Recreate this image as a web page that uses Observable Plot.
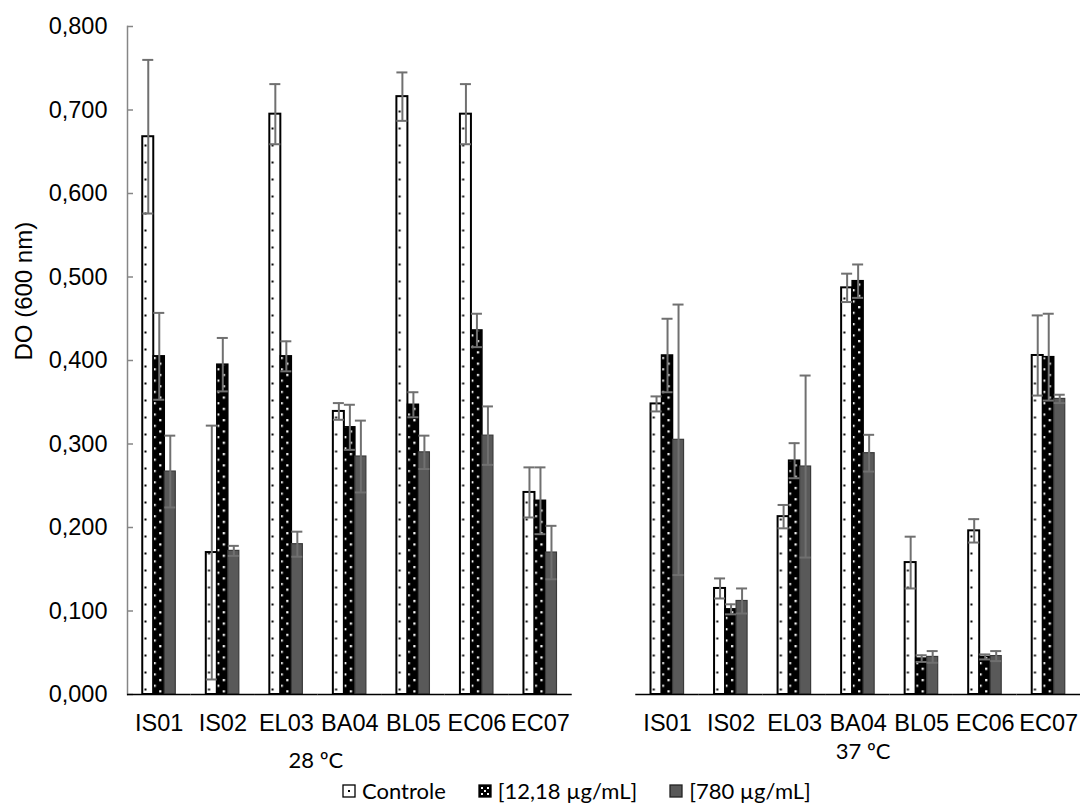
<!DOCTYPE html>
<html>
<head>
<meta charset="utf-8">
<script src="https://cdn.jsdelivr.net/npm/d3@7"></script>
<script src="https://cdn.jsdelivr.net/npm/@observablehq/plot@0.6"></script>
<style>
  html, body { margin: 0; padding: 0; background: #fff; overflow: hidden; }
  #wrap { position: relative; width: 1080px; height: 803px; overflow: hidden; }
  #legend { position: absolute; left: 342px; top: 779px; height: 24px; line-height: 24px; display: flex; align-items: center;
            font-family: Lato, "Noto Sans", sans-serif; font-size: 22px; color: #000; white-space: nowrap; }
  #legend .item { display: flex; align-items: center; margin-right: 32px; }
  #legend svg { margin-right: 6px; }
</style>
</head>
<body>
<div id="wrap">
  <div id="chart"></div>
  <div id="legend"></div>
</div>
<script>
// ---- data ----
const categories = ["IS01", "IS02", "EL03", "BA04", "BL05", "EC06", "EC07"];
const temps = ["28 ºC", "37 ºC"];
const series = ["Controle", "[12,18 µg/mL]", "[780 µg/mL]"];
const yLabel = "DO (600 nm)";

// values: 28 ºC (7) followed by 37 ºC (7)
const controle    = [0.668, 0.170, 0.695, 0.339, 0.716, 0.695, 0.242,  0.348, 0.127, 0.213, 0.487, 0.158, 0.196, 0.406];
const controleErr = [0.092, 0.152, 0.036, 0.010, 0.029, 0.036, 0.030,  0.009, 0.012, 0.014, 0.017, 0.031, 0.014, 0.048];
const c1218       = [0.405, 0.395, 0.405, 0.320, 0.347, 0.436, 0.232,  0.406, 0.102, 0.280, 0.495, 0.043, 0.045, 0.404];
const c1218Err    = [0.052, 0.032, 0.018, 0.027, 0.015, 0.020, 0.040,  0.044, 0.006, 0.021, 0.020, 0.004, 0.003, 0.052];
const c780        = [0.267, 0.172, 0.180, 0.285, 0.290, 0.310, 0.170,  0.305, 0.112, 0.273, 0.289, 0.045, 0.046, 0.354];
const c780Err     = [0.043, 0.006, 0.015, 0.043, 0.020, 0.035, 0.032,  0.162, 0.015, 0.109, 0.022, 0.007, 0.006, 0.005];

const yTicks = [0, 0.1, 0.2, 0.3, 0.4, 0.5, 0.6, 0.7, 0.8];

// ---- build table ----
const slotKey = (t, c) => `${t}|${c}`;
const slots = [...categories.map(c => slotKey(temps[0], c)), "gap", ...categories.map(c => slotKey(temps[1], c))];
const valueSets = [[controle, controleErr], [c1218, c1218Err], [c780, c780Err]];
const rows = [];
for (let i = 0; i < 14; i++) {
  const t = temps[i < 7 ? 0 : 1];
  const c = categories[i % 7];
  series.forEach((s, k) => {
    const v = valueSets[k][0][i], e = valueSets[k][1][i];
    rows.push({slot: slotKey(t, c), series: s, value: v, lo: v - e, hi: v + e});
  });
}
const bySeries = s => rows.filter(d => d.series === s);
const fmt = d => d.toFixed(3).replace(".", ",");
const errColor = "#707070";
const labelFont = "Lato, 'Noto Sans', sans-serif";

const plot = Plot.plot({
  width: 1080,
  height: 778,
  marginLeft: 127,
  marginRight: 0,
  marginTop: 26,
  marginBottom: 84,
  style: {fontFamily: "'Liberation Sans', Arial, sans-serif", fontSize: "23.5px", color: "#000", background: "#fff", overflow: "visible"},
  fx: {domain: slots, padding: 0, round: false, label: null, axis: null},
  x: {domain: series, paddingInner: 0, paddingOuter: 1.386, round: false, axis: null},
  y: {domain: [0, 0.8], axis: null},
  marks: [
    Plot.frame({anchor: "left", facetAnchor: "left", stroke: "#868686", strokeWidth: 1.5}),
    Plot.axisY({ticks: yTicks, tickFormat: fmt, tickSize: 6, insetLeft: 6, tickPadding: 20,
                facetAnchor: "left", stroke: "#868686", strokeWidth: 1.5, label: null}),
    Plot.text([yLabel], {fx: () => slots[0], text: d => d, frameAnchor: "left", rotate: -90,
                         dx: -103, fontSize: 24}),
    Plot.axisFx({anchor: "bottom", tickSize: 0, tickPadding: 20, label: null,
                 tickFormat: d => d === "gap" ? "" : d.split("|")[1]}),
    Plot.barY(bySeries(series[0]), {fx: "slot", x: "series", y: "value", fill: "url(#patCtrl)", stroke: "#000", strokeWidth: 2}),
    Plot.barY(bySeries(series[1]), {fx: "slot", x: "series", y: "value", fill: "url(#pat1218)", stroke: "#000", strokeWidth: 1.5}),
    Plot.barY(bySeries(series[2]), {fx: "slot", x: "series", y: "value", fill: "#595959", stroke: "#3a3a3a", strokeWidth: 1.2}),
    Plot.ruleX(rows, {fx: "slot", x: "series", y1: "lo", y2: "hi", stroke: errColor, strokeWidth: 2}),
    Plot.tickY(rows, {fx: "slot", x: "series", y: "hi", stroke: errColor, strokeWidth: 2}),
    Plot.tickY(rows, {fx: "slot", x: "series", y: "lo", stroke: errColor, strokeWidth: 2}),
    Plot.ruleY([0], {stroke: "#000", strokeWidth: 1.5}),
    Plot.text([temps[0]], {fx: () => slotKey(temps[0], categories[3]), text: d => d, frameAnchor: "bottom",
                           dx: -34, dy: 73, fontFamily: labelFont, fontSize: 22}),
    Plot.text([temps[1]], {fx: () => slotKey(temps[1], categories[3]), text: d => d, frameAnchor: "bottom",
                           dx: 5, dy: 64, fontFamily: labelFont, fontSize: 22})
  ]
});

// patterns
const defs = d3.select(plot).insert("defs", ":first-child");
const p1 = defs.append("pattern").attr("id", "patCtrl").attr("patternUnits", "userSpaceOnUse")
  .attr("width", 17).attr("height", 17);
p1.append("rect").attr("width", 17).attr("height", 17).attr("fill", "#fff");
p1.append("rect").attr("x", 0).attr("y", 0).attr("width", 2).attr("height", 2).attr("fill", "#000");
p1.append("rect").attr("x", 8.5).attr("y", 8.5).attr("width", 2).attr("height", 2).attr("fill", "#000");
const p2 = defs.append("pattern").attr("id", "pat1218").attr("patternUnits", "userSpaceOnUse")
  .attr("width", 11.3).attr("height", 11.3);
p2.append("rect").attr("width", 11.3).attr("height", 11.3).attr("fill", "#000");
p2.append("rect").attr("x", 1).attr("y", 1).attr("width", 2.2).attr("height", 2.2).attr("fill", "#fff");
p2.append("rect").attr("x", 6.65).attr("y", 6.65).attr("width", 2.2).attr("height", 2.2).attr("fill", "#fff");

document.getElementById("chart").appendChild(plot);

// legend
const legend = d3.select("#legend");
const swatches = [
  sv => { sv.append("rect").attr("x", 1).attr("y", 1).attr("width", 12).attr("height", 12).attr("fill", "#fff").attr("stroke", "#000").attr("stroke-width", 1.3);
          sv.append("rect").attr("x", 6).attr("y", 6).attr("width", 2).attr("height", 2).attr("fill", "#000"); },
  sv => { sv.append("rect").attr("x", 1).attr("y", 1).attr("width", 12).attr("height", 12).attr("fill", "#000").attr("stroke", "#000").attr("stroke-width", 1.3);
          [[3,3],[9,3],[6,6],[3,9],[9,9]].forEach(([x,y]) => sv.append("rect").attr("x", x).attr("y", y).attr("width", 2).attr("height", 2).attr("fill", "#fff")); },
  sv => { sv.append("rect").attr("x", 1).attr("y", 1).attr("width", 12).attr("height", 12).attr("fill", "#595959").attr("stroke", "#222").attr("stroke-width", 1.3); }
];
series.forEach((s, k) => {
  const it = legend.append("div").attr("class", "item");
  const sv = it.append("svg").attr("width", 14).attr("height", 14);
  swatches[k](sv);
  it.append("span").text(s);
});
</script>
</body>
</html>
